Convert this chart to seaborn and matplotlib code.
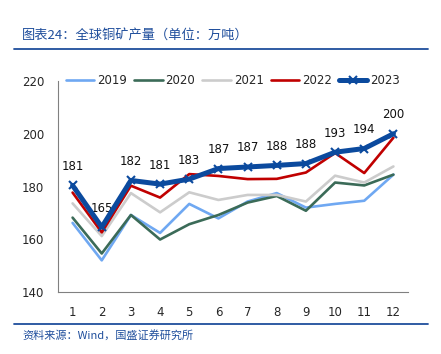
import numpy as np
import pandas as pd
import matplotlib
matplotlib.use('Agg')
import matplotlib.pyplot as plt
from matplotlib.lines import Line2D
import seaborn as sns

months = list(range(1, 13))
v2019 = [166.2, 152.0, 169.2, 162.4, 173.4, 167.9, 174.3, 177.5, 172.0, 173.4, 174.6, 184.5]
v2020 = [168.2, 154.6, 169.2, 159.9, 165.7, 169.2, 173.9, 176.4, 170.8, 181.5, 180.4, 184.5]
v2021 = [173.6, 161.2, 177.5, 170.2, 177.8, 174.9, 176.8, 176.8, 174.3, 184.1, 181.5, 187.6]
v2022 = [177.7, 162.6, 180.3, 175.8, 184.7, 184.0, 182.8, 182.9, 185.3, 192.7, 185.1, 198.5]
v2023 = [180.4, 164.6, 182.3, 180.9, 182.8, 186.8, 187.4, 188.0, 188.7, 193.0, 194.4, 200.0]
labels2023 = ['181', '165', '182', '181', '183', '187', '187', '188', '188', '193', '194', '200']

series = {'2019': v2019, '2020': v2020, '2021': v2021, '2022': v2022, '2023': v2023}
colors = {'2019': '#6fa8f2', '2020': '#3b6b58', '2021': '#cccccc', '2022': '#c00000', '2023': '#0b4a9e'}

sns.set_style('white')
plt.rcParams['font.family'] = ['DejaVu Sans', 'Noto Sans CJK SC']

fig = plt.figure(figsize=(4.41, 3.54), dpi=100)
ax = fig.add_axes([58 / 441, 1 - 292 / 354, 350 / 441, 211 / 354])

for year, vals in series.items():
    if year == '2023':
        sns.lineplot(x=months, y=vals, ax=ax, color=colors[year], lw=3.6,
                     marker='x', markersize=6, markeredgewidth=1.5,
                     markeredgecolor=colors[year], zorder=5)
    else:
        sns.lineplot(x=months, y=vals, ax=ax, color=colors[year], lw=1.9, zorder=3)

for m, v, t in zip(months, v2023, labels2023):
    ax.annotate(t, (m, v), xytext=(0, 9), textcoords='offset points',
                ha='center', va='bottom', fontsize=8.5, color='#111111')

ax.set_xlim(0.5, 12.5)
ax.set_ylim(140, 220)
ax.set_yticks([140, 160, 180, 200, 220])
ax.set_xticks(months)
ax.set_xticks(np.arange(0.5, 13, 1), minor=True)
ax.tick_params(axis='x', which='major', length=0, pad=10, labelsize=8.5)
ax.tick_params(axis='x', which='minor', length=4, direction='out', color='#808080', width=0.8)
ax.tick_params(axis='y', length=0, pad=10, labelsize=8.5)
ax.set_xlabel('')
ax.set_ylabel('')
for s in ['top', 'right']:
    ax.spines[s].set_visible(False)
for s in ['left', 'bottom']:
    ax.spines[s].set_color('#808080')
    ax.spines[s].set_linewidth(0.8)

handles = []
for year in series:
    if year == '2023':
        handles.append(Line2D([], [], color=colors[year], lw=3.6, marker='x', markersize=6,
                              markeredgewidth=1.5, markeredgecolor=colors[year]))
    else:
        handles.append(Line2D([], [], color=colors[year], lw=1.9))
ax.legend(handles, list(series.keys()), ncol=5, loc='center', bbox_to_anchor=(0.5, 1.0),
          frameon=False, fontsize=8.5, handlelength=2.4, handletextpad=0.25, columnspacing=0.6)

blue = '#1f4e9c'
fig.text(22 / 441, 1 - 36 / 354, '图表24：全球铜矿产量（单位：万吨）', fontsize=9.5, color=blue,
         va='center', ha='left', family=['Noto Sans CJK SC', 'DejaVu Sans'])
fig.add_artist(Line2D([14 / 441, 428 / 441], [1 - 49 / 354, 1 - 49 / 354], color=blue, lw=1.3))
fig.add_artist(Line2D([14 / 441, 428 / 441], [1 - 324 / 354, 1 - 324 / 354], color=blue, lw=1.3))
fig.text(22 / 441, 1 - 335 / 354, '资料来源：Wind，国盛证券研究所', fontsize=8, color=blue,
         va='center', ha='left', family=['Noto Sans CJK SC', 'DejaVu Sans'])

fig.savefig('out.png', dpi=100)
